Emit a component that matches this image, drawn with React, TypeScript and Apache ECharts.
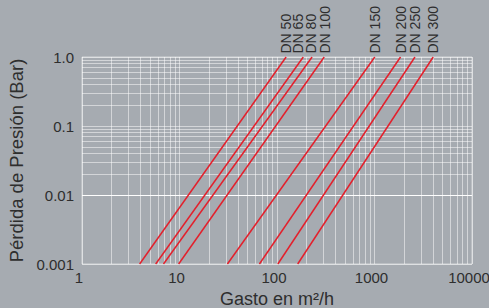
import React, { useEffect, useRef } from 'react';
import * as echarts from 'echarts';

// Pipe sizes
const seriesNames = ['DN 50', 'DN 65', 'DN 80', 'DN 100', 'DN 150', 'DN 200', 'DN 250', 'DN 300'];
// Flow (m³/h) at the lowest pressure loss (0.001 bar)
const flowAtLowLoss = [3.9, 5.7, 6.85, 9.8, 31, 66, 102, 163];
// Flow (m³/h) at the highest pressure loss (1.0 bar)
const flowAtHighLoss = [124, 186, 229, 305, 1007, 1850, 2600, 4000];
const lossLow = 0.001;
const lossHigh = 1.0;

const xTickLabels = ['1', '10', '100', '1000', '10000'];
const yTickLabels = ['0.001', '0.01', '0.1', '1.0'];
const minorSteps = [2, 3, 4, 5, 6, 7, 8, 9];
const xDecades = [1, 10, 100, 1000];
const yDecades = [0.001, 0.01, 0.1];

const FONT = "'Liberation Sans', Arial, Helvetica, sans-serif";
const BG = '#a6abb1';
const GRID = 'rgba(255,255,255,0.5)';
const TEXT = '#2e2e2e';
const RED = '#e3202c';

// small sideways nudges (px) so the crowded labels do not overlap
const labelShift = [0, -5, -1, 1, 0, 0, 0, 0];

export default function App() {
  const ref = useRef<HTMLDivElement>(null);

  useEffect(() => {
    if (!ref.current) return;
    const chart = echarts.init(ref.current, undefined, { renderer: 'svg' });

    const gridLines: any[] = [];
    xDecades.forEach((d) => minorSteps.forEach((m) => gridLines.push({ xAxis: d * m })));
    yDecades.forEach((d) => minorSteps.forEach((m) => gridLines.push({ yAxis: d * m })));

    const series: any[] = seriesNames.map((name, i) => ({
      name,
      type: 'line',
      z: 3,
      symbol: 'none',
      silent: true,
      lineStyle: { color: RED, width: 1.5 },
      data: [
        [flowAtLowLoss[i], lossLow],
        [flowAtHighLoss[i], lossHigh],
      ],
      markPoint: {
        symbol: 'circle',
        symbolSize: 1,
        silent: true,
        itemStyle: { color: 'rgba(0,0,0,0)' },
        label: {
          show: true,
          formatter: name,
          position: 'top',
          distance: 3,
          rotate: 90,
          align: 'left',
          verticalAlign: 'middle',
          offset: [0, labelShift[i]],
          color: TEXT,
          fontSize: 14,
          fontFamily: FONT,
        },
        data: [{ coord: [flowAtHighLoss[i], lossHigh] }],
      },
      ...(i === 0
        ? {
            markLine: {
              silent: true,
              z: 1,
              symbol: ['none', 'none'],
              label: { show: false },
              lineStyle: { color: GRID, width: 1, type: 'solid' },
              emphasis: { disabled: true },
              data: gridLines,
            },
          }
        : {}),
    }));

    chart.setOption({
      animation: false,
      backgroundColor: BG,
      grid: {
        left: 82,
        right: 17,
        top: 57,
        bottom: 44,
        show: true,
        borderColor: GRID,
        borderWidth: 1,
        backgroundColor: 'transparent',
        containLabel: false,
        outerBoundsMode: 'none',
      },
      xAxis: {
        type: 'log',
        logBase: 10,
        min: 1,
        max: 10000,
        name: 'Gasto en m²/h',
        nameLocation: 'middle',
        nameGap: 24,
        nameTextStyle: { color: TEXT, fontSize: 18, fontFamily: FONT },
        axisLine: { show: false },
        axisTick: { show: false },
        axisLabel: {
          color: TEXT,
          fontSize: 15,
          fontFamily: FONT,
          margin: 6,
          padding: [0, 6, 0, 0],
          formatter: (v: number) => xTickLabels[Math.round(Math.log10(v))] ?? '',
        },
        splitLine: { show: true, lineStyle: { color: GRID, width: 1 } },
      },
      yAxis: {
        type: 'log',
        logBase: 10,
        min: 0.001,
        max: 1,
        name: 'Pérdida de Presión (Bar)',
        nameLocation: 'middle',
        nameGap: 43,
        nameTextStyle: { color: TEXT, fontSize: 18.5, fontFamily: FONT },
        axisLine: { show: false },
        axisTick: { show: false },
        axisLabel: {
          color: TEXT,
          fontSize: 15,
          fontFamily: FONT,
          margin: 8,
          formatter: (v: number) => yTickLabels[Math.round(Math.log10(v)) + 3] ?? '',
        },
        splitLine: { show: true, lineStyle: { color: GRID, width: 1 } },
      },
      series,
    });

    return () => chart.dispose();
  }, []);

  return (
    <div
      ref={ref}
      style={{ position: 'fixed', left: 0, top: 0, width: 489, height: 308, background: BG }}
    />
  );
}
